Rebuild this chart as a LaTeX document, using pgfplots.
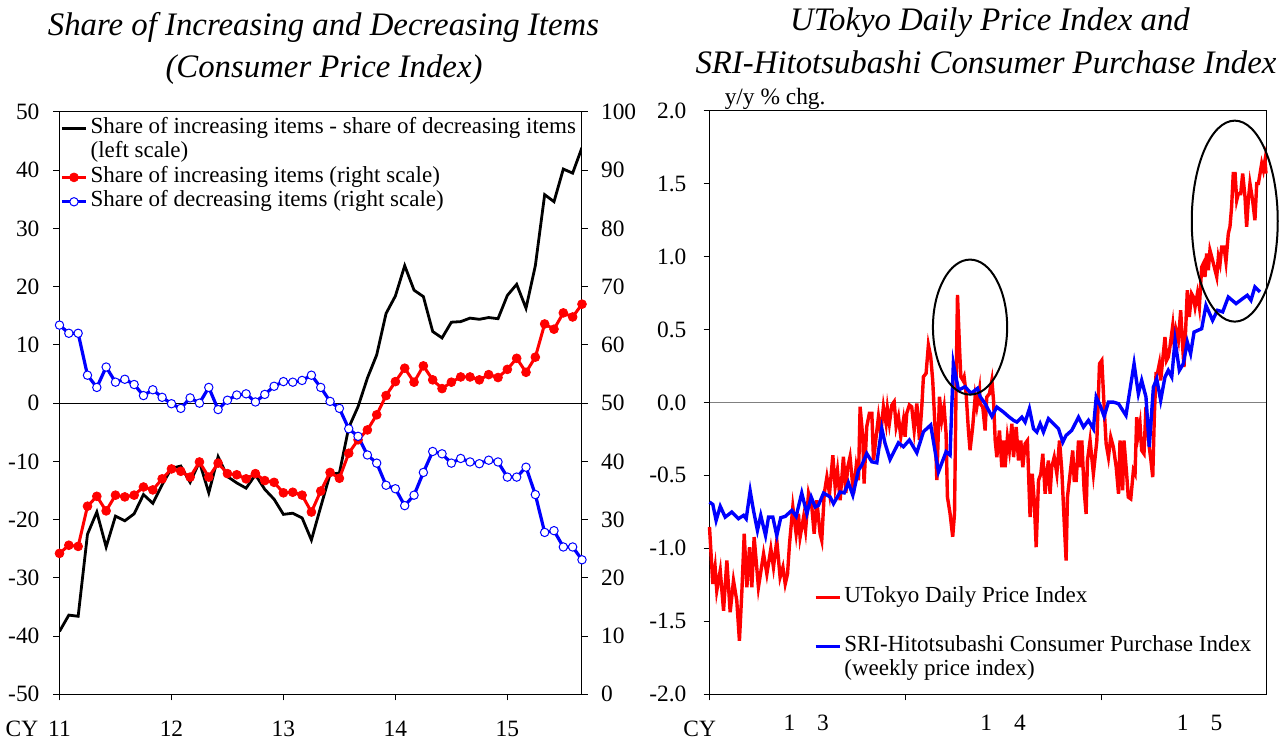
\documentclass[border=0pt]{standalone}
\usepackage{fontspec}
\setmainfont{Liberation Serif}
\usepackage{pgfplots}
\pgfplotsset{compat=1.18}
\usepackage{pgfplotstable}

\pgfplotstableread{
m inc dec diff
0 24.2 63.4 -39.2
1 25.6 62.0 -36.4
2 25.4 62.0 -36.6
3 32.3 54.8 -22.5
4 34.0 52.7 -18.7
5 31.5 56.2 -24.7
6 34.2 53.6 -19.4
7 33.9 54.1 -20.2
8 34.2 53.2 -19.0
9 35.6 51.3 -15.7
10 35.1 52.3 -17.2
11 37.0 51.0 -14.0
12 38.7 49.9 -11.2
13 38.3 49.1 -10.8
14 37.3 50.9 -13.6
15 39.9 50.0 -10.1
16 37.3 52.7 -15.4
17 39.7 48.9 -9.2
18 37.9 50.5 -12.6
19 37.7 51.4 -13.7
20 37.0 51.6 -14.6
21 37.9 50.2 -12.3
22 36.7 51.5 -14.8
23 36.4 52.9 -16.5
24 34.6 53.7 -19.1
25 34.7 53.6 -18.9
26 34.2 53.9 -19.7
27 31.3 54.8 -23.5
28 34.9 52.7 -17.8
29 38.1 50.3 -12.2
30 37.1 49.1 -12.0
31 41.4 45.6 -4.2
32 43.7 44.3 -0.6
33 45.4 41.1 4.3
34 48.0 39.7 8.3
35 51.3 35.9 15.4
36 53.7 35.3 18.4
37 56.0 32.4 23.6
38 53.6 34.2 19.4
39 56.4 38.1 18.3
40 54.0 41.7 12.3
41 52.5 41.3 11.2
42 53.6 39.7 13.9
43 54.5 40.5 14.0
44 54.5 39.9 14.6
45 54.0 39.6 14.4
46 54.9 40.2 14.7
47 54.4 39.9 14.5
48 55.8 37.3 18.5
49 57.7 37.3 20.4
50 55.3 39.0 16.3
51 57.9 34.3 23.6
52 63.6 27.8 35.8
53 62.7 28.1 34.6
54 65.5 25.3 40.2
55 64.8 25.3 39.5
56 67.0 23.1 43.9
}\cpidata

\pgfplotstableread{
x y
0.00 -0.854
0.20 -1.244
0.34 -1.129
0.44 -1.290
0.65 -1.152
0.85 -1.427
1.05 -1.083
1.25 -1.438
1.45 -1.221
1.65 -1.358
1.81 -1.633
1.96 -1.290
2.10 -0.900
2.26 -1.267
2.42 -0.992
2.56 -1.267
2.70 -0.923
2.96 -1.267
3.27 -1.038
3.47 -1.175
3.71 -1.003
3.87 -1.129
4.07 -0.946
4.27 -1.198
4.44 -1.129
4.58 -1.244
4.72 -1.175
4.84 -0.969
5.04 -0.717
5.24 -0.900
5.38 -0.763
5.48 -0.923
5.69 -0.786
5.81 -0.877
5.99 -0.625
6.19 -0.717
6.33 -0.900
6.49 -0.671
6.69 -0.900
6.79 -0.946
6.94 -0.625
7.10 -0.511
7.26 -0.625
7.46 -0.362
7.60 -0.579
7.74 -0.465
7.90 -0.671
8.10 -0.373
8.25 -0.620
8.35 -0.450
8.50 -0.373
8.71 -0.624
8.87 -0.441
9.01 -0.533
9.11 -0.030
9.27 -0.235
9.35 -0.556
9.51 -0.167
9.67 -0.075
9.82 -0.075
9.92 -0.396
10.08 -0.235
10.22 -0.098
10.36 -0.213
10.52 -0.030
10.68 -0.144
10.76 -0.041
10.88 -0.144
11.03 -0.018
11.17 0.005
11.29 -0.167
11.43 -0.098
11.57 -0.235
11.73 -0.121
11.83 -0.235
11.93 -0.075
12.09 -0.018
12.23 -0.030
12.38 -0.190
12.54 -0.007
12.70 -0.258
12.84 -0.030
12.94 0.176
13.10 0.199
13.24 0.393
13.38 0.313
13.50 0.153
13.65 -0.190
13.75 -0.533
13.91 0.039
14.05 -0.121
14.19 -0.030
14.31 -0.213
14.39 -0.647
14.55 -0.761
14.71 -0.921
14.82 -0.761
14.92 0.153
15.00 0.736
15.12 0.382
15.20 0.176
15.32 0.153
15.40 0.176
15.52 0.062
15.66 -0.190
15.76 -0.327
15.92 -0.167
16.07 0.039
16.17 -0.030
16.33 0.085
16.37 -0.009
16.53 -0.032
16.67 -0.192
16.77 0.037
16.93 0.059
17.08 0.151
17.18 0.014
17.28 -0.261
17.38 -0.375
17.54 -0.192
17.68 -0.444
17.78 -0.261
17.88 -0.444
18.02 -0.238
18.14 -0.329
18.29 -0.146
18.39 -0.375
18.55 -0.169
18.69 -0.398
18.83 -0.261
18.95 -0.444
19.09 -0.283
19.23 -0.261
19.39 -0.786
19.52 -0.489
19.64 -0.672
19.76 -0.992
19.90 -0.535
20.04 -0.489
20.16 -0.352
20.30 -0.626
20.40 -0.489
20.50 -0.398
20.60 -0.626
20.70 -0.444
20.85 -0.375
21.01 -0.489
21.17 -0.261
21.31 -0.466
21.45 -0.809
21.57 -1.084
21.65 -0.649
21.81 -0.489
21.97 -0.329
22.06 -0.535
22.18 -0.535
22.32 -0.261
22.42 -0.444
22.52 -0.261
22.66 -0.604
22.78 -0.764
22.86 -0.398
23.02 -0.261
23.22 -0.489
23.43 -0.261
23.59 0.265
23.73 0.288
23.87 -0.032
23.99 -0.283
24.13 -0.375
24.27 -0.238
24.43 -0.306
24.60 -0.444
24.74 -0.626
24.83 -0.261
24.99 -0.603
25.07 -0.261
25.23 -0.489
25.33 -0.649
25.48 -0.661
25.64 -0.466
25.74 -0.489
25.84 -0.101
25.94 -0.215
26.04 -0.146
26.14 -0.329
26.28 -0.352
26.40 -0.032
26.48 -0.146
26.60 -0.306
26.70 -0.398
26.81 -0.512
26.91 -0.078
27.01 0.197
27.09 0.197
27.21 0.265
27.29 0.151
27.41 0.288
27.55 0.448
27.65 0.288
27.75 0.311
27.85 0.380
28.02 0.528
28.12 0.380
28.22 0.494
28.36 0.425
28.50 0.631
28.62 0.380
28.70 0.242
28.82 0.551
28.90 0.768
29.02 0.585
29.16 0.745
29.27 0.722
29.37 0.654
29.51 0.745
29.63 0.654
29.77 0.928
29.87 0.951
29.97 0.860
30.07 1.020
30.17 0.905
30.27 1.043
30.43 0.974
30.58 0.905
30.68 0.860
30.78 0.997
30.88 0.951
30.98 1.065
31.12 1.065
31.24 0.963
31.38 1.157
31.48 1.203
31.58 1.340
31.68 1.568
31.79 1.568
31.89 1.385
31.99 1.431
32.13 1.431
32.25 1.568
32.39 1.408
32.49 1.203
32.59 1.385
32.69 1.500
32.85 1.385
32.99 1.248
33.10 1.500
33.20 1.500
33.30 1.568
33.40 1.637
33.50 1.591
33.60 1.660
33.66 1.568
}\utokyo

\pgfplotstableread{
x y
0.00 -0.683
0.20 -0.699
0.40 -0.809
0.65 -0.712
0.95 -0.786
1.35 -0.751
1.75 -0.797
2.06 -0.774
2.22 -0.797
2.46 -0.607
2.66 -0.740
2.90 -0.877
3.10 -0.774
3.39 -0.912
3.57 -0.786
3.83 -0.786
4.07 -0.912
4.31 -0.790
4.58 -0.781
4.98 -0.740
5.24 -0.781
5.58 -0.621
5.89 -0.763
6.15 -0.648
6.39 -0.717
6.59 -0.705
6.90 -0.621
7.30 -0.648
7.50 -0.694
7.90 -0.614
8.15 -0.620
8.40 -0.550
8.67 -0.636
9.01 -0.464
9.21 -0.430
9.51 -0.350
9.82 -0.407
10.12 -0.414
10.42 -0.178
10.62 -0.281
10.92 -0.391
11.43 -0.277
11.73 -0.304
12.09 -0.258
12.54 -0.345
12.94 -0.201
13.38 -0.155
13.85 -0.476
14.31 -0.338
14.55 -0.361
14.75 0.267
15.06 0.085
15.46 0.107
15.82 0.062
16.21 0.096
16.37 0.040
16.67 -0.009
17.08 -0.096
17.38 -0.032
17.78 -0.066
18.08 -0.096
18.39 -0.123
18.59 -0.135
18.89 -0.101
19.09 -0.135
19.35 -0.043
19.60 -0.181
19.80 -0.203
20.00 -0.146
20.20 -0.203
20.50 -0.112
20.81 -0.146
21.11 -0.181
21.37 -0.272
21.57 -0.226
21.91 -0.192
22.32 -0.101
22.62 -0.169
22.92 -0.123
23.22 -0.181
23.39 0.037
23.63 -0.021
23.87 -0.096
24.13 0.002
24.43 0.002
24.74 -0.009
25.19 -0.089
25.68 0.265
25.94 0.059
26.14 0.151
26.40 0.037
26.60 -0.306
26.85 0.105
27.05 0.162
27.29 0.014
27.55 0.174
27.75 0.219
27.96 0.174
28.16 0.425
28.42 0.219
28.66 0.265
28.90 0.414
29.10 0.334
29.31 0.482
29.77 0.505
30.03 0.665
30.43 0.562
30.72 0.631
31.04 0.620
31.38 0.722
31.85 0.677
32.25 0.711
32.53 0.734
32.75 0.700
32.99 0.791
33.30 0.757
}\srih

\pgfplotsset{
  myaxis/.style={
    scale only axis,
    axis line style={line width=0.5pt},
    tick align=outside,
    major tick length=3pt,
    tick style={line width=0.5pt, black},
    tick label style={font=\fontsize{11.7}{14}\selectfont},
    xticklabel shift=6.6pt,
    yticklabel shift=3.5pt,
    legend image code/.code={\draw[mark repeat=2,mark phase=2,#1] plot coordinates {(0pt,0pt) (6pt,0pt) (12pt,0pt)};},
    legend cell align=left,
  },
  mylegend/.style={
    draw=none, fill=none, inner sep=0pt, row sep=0pt,
    font=\fontsize{11.5}{13}\selectfont,
    nodes={inner ysep=0pt, inner xsep=1.5pt, text height=8.6pt, text depth=3.6pt},
  },
}

\begin{document}
\begin{tikzpicture}
\useasboundingbox (0pt,0pt) rectangle (641pt,370pt);

% titles
\node[anchor=base, font=\fontsize{16.4}{20}\selectfont\itshape] at (161.75pt,352pt) {Share of Increasing and Decreasing Items};
\node[anchor=base, font=\fontsize{16.4}{20}\selectfont\itshape] at (162pt,331pt) {(Consumer Price Index)};
\node[anchor=base, font=\fontsize{16.4}{20}\selectfont\itshape] at (495pt,354.5pt) {UTokyo Daily Price Index and};
\node[anchor=base, font=\fontsize{16.4}{20}\selectfont\itshape] at (493pt,333pt) {SRI-Hitotsubashi Consumer Purchase Index};

% ---------- left panel, left scale ----------
\begin{axis}[myaxis,
  at={(29.75pt,22.85pt)}, anchor=south west,
  width=261.25pt, height=291.15pt,
  xmin=0, xmax=56, ymin=-50, ymax=50,
  xtick={0,12,24,36,48},
  xticklabels={\llap{CY\hspace{5pt}}11,12,13,14,15},
  ytick={-50,-40,-30,-20,-10,0,10,20,30,40,50},
  yticklabels={-50,-40,-30,-20,-10,0,10,20,30,40,50},
  xtick pos=left, ytick pos=left,
]
\addplot[black, line width=0.5pt, forget plot] coordinates {(0,0) (56,0)};
\addplot[black, line width=1.4pt] table[x=m, y=diff] {\cpidata};
\node[anchor=base west, font=\fontsize{11.7}{14}\selectfont] at (rel axis cs:0,1) [xshift=5.25pt, yshift=3.5pt] {\% points};
\node[anchor=base east, font=\fontsize{11.7}{14}\selectfont] at (rel axis cs:1,1) [xshift=1.5pt, yshift=3.5pt] {\%};
\end{axis}

% ---------- left panel, right scale ----------
\begin{axis}[myaxis,
  at={(29.75pt,22.85pt)}, anchor=south west,
  width=261.25pt, height=291.15pt,
  xmin=0, xmax=56, ymin=0, ymax=100,
  axis x line=none, axis y line*=right,
  yticklabel shift=3pt,
  ytick={0,10,20,30,40,50,60,70,80,90,100},
  yticklabels={0,10,20,30,40,50,60,70,80,90,100},
  legend style={mylegend, at={(0,1)}, anchor=north west, xshift=0.25pt, yshift=-2pt},
]
\addlegendimage{black, line width=1.4pt}
\addlegendentry{Share of increasing items - share of decreasing items}
\addlegendimage{empty legend}
\addlegendentry{(left scale)}
\addplot[red, line width=1.5pt, mark=*, mark size=2.2pt, mark options={fill=red, draw=red, line width=0.4pt}] table[x=m, y=inc] {\cpidata};
\addlegendentry{Share of increasing items (right scale)}
\addplot[blue, line width=1.6pt, mark=*, mark size=2.1pt, mark options={fill=white, draw=blue, line width=0.5pt}] table[x=m, y=dec] {\cpidata};
\addlegendentry{Share of decreasing items (right scale)}
\end{axis}

% ---------- right panel ----------
\begin{axis}[myaxis,
  at={(354.75pt,22.85pt)}, anchor=south west,
  width=278.25pt, height=291.9pt,
  xmin=0, xmax=33.66, ymin=-2, ymax=2,
  tick pos=left,
  yticklabel shift=5pt,
  xtick={0,11.85,23.68}, xticklabels={\llap{CY\hspace{-3.25pt}},,},
  extra x ticks={5.85,17.76,29.64},
  extra x tick labels={1\hspace{11pt}3,1\hspace{11pt}4,1\hspace{11pt}5},
  extra x tick style={major tick length=0pt},
  ytick={-2,-1.5,-1,-0.5,0,0.5,1,1.5,2},
  yticklabels={-2.0,-1.5,-1.0,-0.5,0.0,0.5,1.0,1.5,2.0},
  clip=false,
  legend style={mylegend, at={(0.187,0.187)}, anchor=north west},
]
\addplot[gray, line width=0.7pt, forget plot] coordinates {(0,0) (33.66,0)};
\addplot[red, line width=1.7pt] table {\utokyo};
\addlegendentry{UTokyo Daily Price Index}
\addlegendimage{empty legend}
\addlegendentry{\mbox{}}
\addplot[blue, line width=1.7pt] table {\srih};
\addlegendentry{SRI-Hitotsubashi Consumer Purchase Index}
\addlegendimage{empty legend}
\addlegendentry{(weekly price index)}
\draw[black, line width=1pt] (axis cs:15.76,0.516) ellipse [x radius=18.55pt, y radius=33.75pt];
\draw[black, line width=1pt] (axis cs:31.77,1.242) ellipse [x radius=21.5pt, y radius=50.25pt];
\node[anchor=base west, font=\fontsize{11.7}{14}\selectfont] at (rel axis cs:0,1) [xshift=4.1pt, yshift=3.25pt] {y/y \% chg.};
\end{axis}
\end{tikzpicture}
\end{document}
